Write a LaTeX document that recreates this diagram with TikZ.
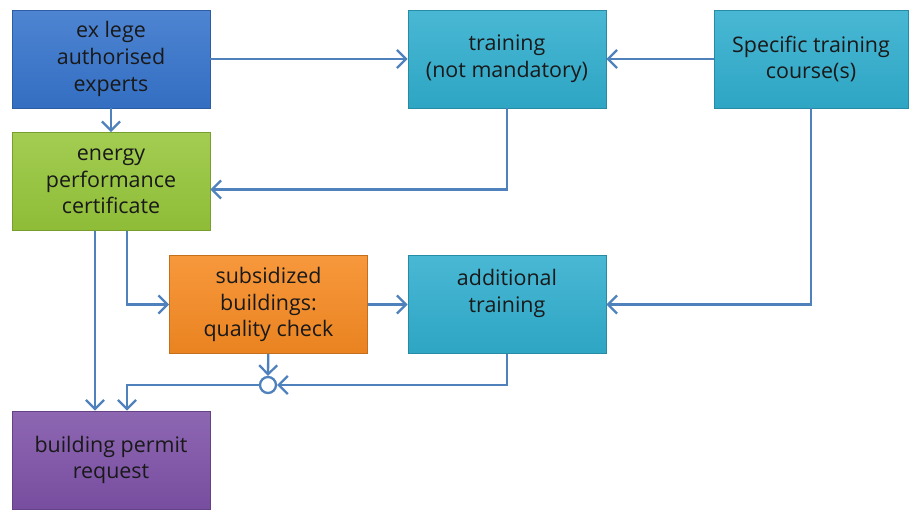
\documentclass[tikz,border=0pt]{standalone}
\usepackage{fontspec}
\setmainfont{Open Sans}
\usetikzlibrary{arrows.meta, calc, positioning}
\definecolor{lineblue}{RGB}{79,129,189}
\definecolor{expblue}{RGB}{54,116,204}
\definecolor{certgreen}{RGB}{150,198,58}
\definecolor{traincyan}{RGB}{48,174,206}
\definecolor{checkorange}{RGB}{246,138,34}
\definecolor{permitpurple}{RGB}{126,82,168}

\begin{document}
\begin{tikzpicture}[x=0.02cm, y=-0.02cm,
  box/.style={rectangle, minimum width=3.96cm, minimum height=1.96cm,
    align=center, font=\fontsize{12.2}{15.2}\selectfont, text=black!90,
    draw=#1!80!black, line width=0.5pt, top color=#1!88!white, bottom color=#1!95!black},
  arr/.style={draw=lineblue, line width=1.3pt, -{Straight Barb[length=1.8mm, width=3.6mm]}},
  link/.style={draw=lineblue, line width=1.3pt}]
\useasboundingbox (0,0) rectangle (909,510);

% top row
\node[box=expblue] (exp) at (111,59) {ex lege\\authorised\\experts};
\node[box=traincyan] (train) at (507,59) {training\\(not mandatory)};
\node[box=traincyan, minimum width=3.88cm] (course) at (811,59) {Specific training\\course(s)};

% middle rows
\node[box=certgreen] (cert) at (111,181.5) {energy\\performance\\certificate};
\node[box=checkorange] (check) at (268.5,304.5) {subsidized\\buildings:\\quality check};
\node[box=traincyan] (addtrain) at (507,304.5) {additional\\training\\\mbox{}};

% junction and permit
\node[circle, draw=lineblue, fill=white, line width=1.3pt, minimum size=0.32cm, inner sep=0pt] (join) at (268,385) {};
\node[box=permitpurple] (permit) at (111,460) {building permit\\request};

% connectors
\draw[arr] (exp) -- (train);
\draw[arr] (course) -- (train);
\draw[arr] (exp) -- (cert);
\draw[arr] (train.south) |- ($(cert.east)+(0,8)$);
\draw[arr] (course.south) |- (addtrain.east);
\draw[arr] ($(cert.south)+(-16,0)$) -- ($(permit.north)+(-16,0)$);
\draw[arr] ($(cert.south)+(16,0)$) |- (check.west);
\draw[arr] (check) -- (addtrain);
\draw[arr] (check) -- (join);
\draw[arr] (addtrain.south) |- (join.east);
\draw[arr] (join.west) -| ($(permit.north)+(16,0)$);
\end{tikzpicture}
\end{document}
